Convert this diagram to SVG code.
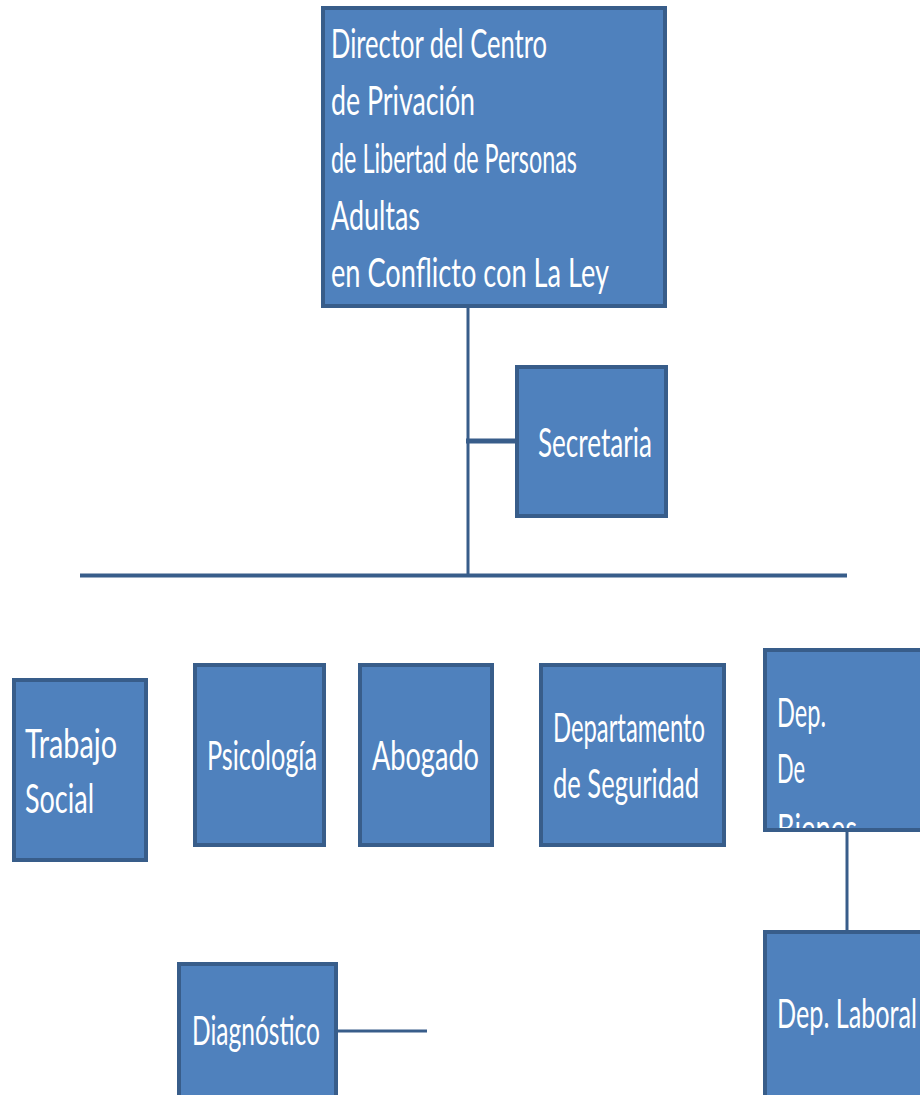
<svg xmlns="http://www.w3.org/2000/svg" width="920" height="1095" viewBox="0 0 920 1095">
<style>
.box{fill:#4f81bd;stroke:#385d8a;stroke-width:4}
.t{font-family:Lato,"Open Sans","Noto Sans",sans-serif;font-size:40px;fill:#ffffff}
.c{stroke:#385d8a;fill:none}
</style>
<defs>
<clipPath id="clipBienes"><rect x="765" y="650" width="160" height="178"/></clipPath>
</defs>
<rect width="920" height="1095" fill="#ffffff"/>
<g id="connectors">
<line class="c" x1="468" y1="306" x2="468" y2="577" stroke-width="3"/>
<line class="c" x1="466" y1="441" x2="517" y2="441" stroke-width="5"/>
<line class="c" x1="80" y1="575.5" x2="847" y2="575.5" stroke-width="4"/>
<line class="c" x1="847" y1="830" x2="847" y2="934" stroke-width="3"/>
<line class="c" x1="336" y1="1031" x2="427" y2="1031" stroke-width="3"/>
</g>
<g id="director">
<rect class="box" x="323" y="8" width="342" height="298"/>
<text class="t" x="331" y="58" textLength="216" lengthAdjust="spacingAndGlyphs">Director del Centro</text>
<text class="t" x="331" y="115" textLength="144" lengthAdjust="spacingAndGlyphs">de Privación</text>
<text class="t" x="331" y="173" textLength="246" lengthAdjust="spacingAndGlyphs">de Libertad de Personas</text>
<text class="t" x="331" y="230" textLength="89" lengthAdjust="spacingAndGlyphs">Adultas</text>
<text class="t" x="331" y="287" textLength="278" lengthAdjust="spacingAndGlyphs">en Conflicto con La Ley</text>
</g>
<g id="secretaria">
<rect class="box" x="517" y="367" width="149" height="149"/>
<text class="t" x="538" y="457" textLength="114" lengthAdjust="spacingAndGlyphs">Secretaria</text>
</g>
<g id="trabajo-social">
<rect class="box" x="14" y="680" width="132" height="180"/>
<text class="t" x="25" y="758" textLength="92" lengthAdjust="spacingAndGlyphs">Trabajo</text>
<text class="t" x="25" y="813" textLength="69" lengthAdjust="spacingAndGlyphs">Social</text>
</g>
<g id="psicologia">
<rect class="box" x="195" y="665" width="129" height="180"/>
<text class="t" x="207" y="770" textLength="110" lengthAdjust="spacingAndGlyphs">Psicología</text>
</g>
<g id="abogado">
<rect class="box" x="360" y="665" width="132" height="180"/>
<text class="t" x="372" y="770" textLength="107" lengthAdjust="spacingAndGlyphs">Abogado</text>
</g>
<g id="seguridad">
<rect class="box" x="541" y="665" width="183" height="180"/>
<text class="t" x="553" y="742" textLength="152" lengthAdjust="spacingAndGlyphs">Departamento</text>
<text class="t" x="553" y="798" textLength="146" lengthAdjust="spacingAndGlyphs">de Seguridad</text>
</g>
<g id="bienes">
<rect class="box" x="765" y="650" width="200" height="180"/>
<g clip-path="url(#clipBienes)">
<text class="t" x="777" y="727" textLength="49" lengthAdjust="spacingAndGlyphs">Dep.</text>
<text class="t" x="777" y="783" textLength="28" lengthAdjust="spacingAndGlyphs">De</text>
<text class="t" x="777" y="843" textLength="80" lengthAdjust="spacingAndGlyphs">Bienes</text>
</g>
<rect x="765" y="650" width="200" height="180" fill="none" stroke="#385d8a" stroke-width="4"/>
</g>
<g id="laboral">
<rect class="box" x="765" y="932" width="200" height="200"/>
<text class="t" x="777" y="1028" textLength="140" lengthAdjust="spacingAndGlyphs">Dep. Laboral</text>
</g>
<g id="diagnostico">
<rect class="box" x="179" y="964" width="157" height="170"/>
<text class="t" x="192" y="1045" textLength="128" lengthAdjust="spacingAndGlyphs">Diagnóstico</text>
</g>
</svg>
